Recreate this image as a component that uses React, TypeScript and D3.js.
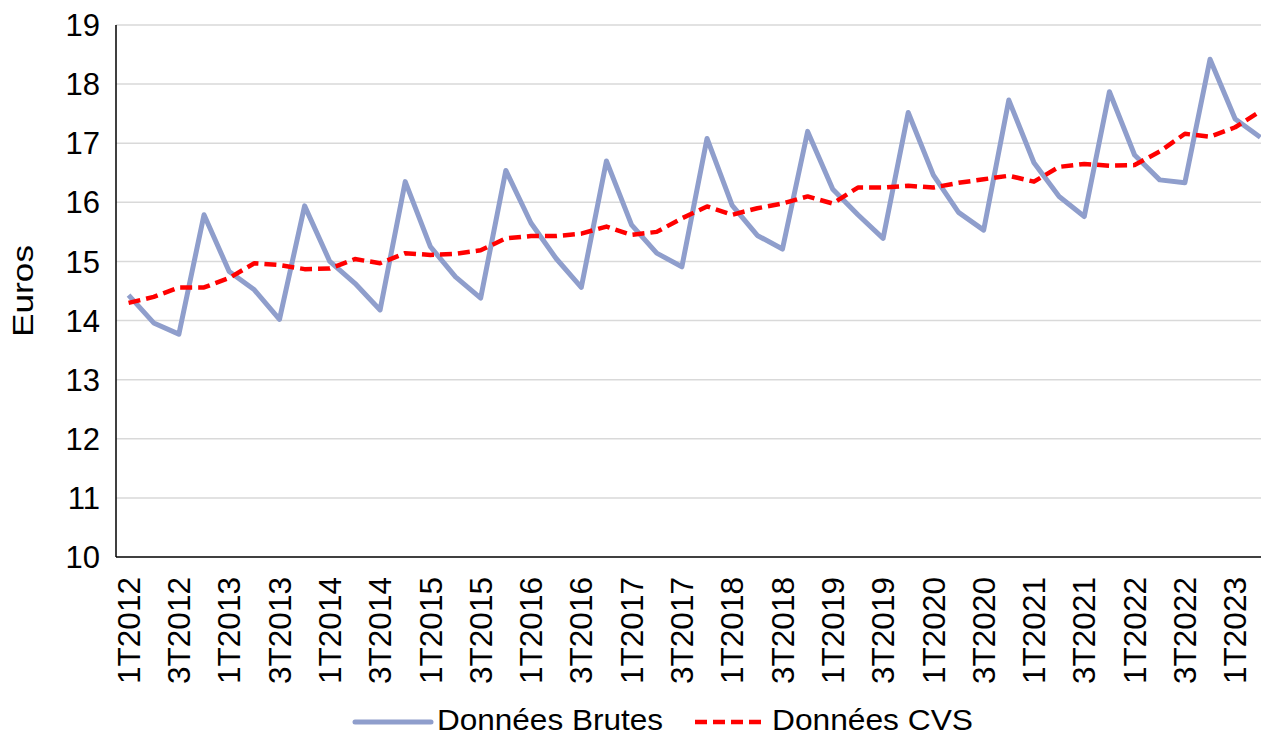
import React from "react";
import * as d3 from "d3";

const categories: string[] = [
  "1T2012", "2T2012", "3T2012", "4T2012",
  "1T2013", "2T2013", "3T2013", "4T2013",
  "1T2014", "2T2014", "3T2014", "4T2014",
  "1T2015", "2T2015", "3T2015", "4T2015",
  "1T2016", "2T2016", "3T2016", "4T2016",
  "1T2017", "2T2017", "3T2017", "4T2017",
  "1T2018", "2T2018", "3T2018", "4T2018",
  "1T2019", "2T2019", "3T2019", "4T2019",
  "1T2020", "2T2020", "3T2020", "4T2020",
  "1T2021", "2T2021", "3T2021", "4T2021",
  "1T2022", "2T2022", "3T2022", "4T2022",
  "1T2023", "2T2023",
];

const brutes: number[] = [
  14.43, 13.96, 13.77, 15.79,
  14.83, 14.52, 14.02, 15.94,
  15.0, 14.63, 14.18, 16.35,
  15.25, 14.74, 14.38, 16.54,
  15.65, 15.05, 14.56, 16.7,
  15.62, 15.14, 14.91, 17.08,
  15.95, 15.44, 15.21, 17.2,
  16.22, 15.79, 15.39, 17.52,
  16.46, 15.83, 15.53, 17.73,
  16.67, 16.1, 15.76, 17.87,
  16.8, 16.38, 16.33, 18.42,
  17.41, 17.1,
];

const cvs: number[] = [
  14.3, 14.4, 14.56, 14.56,
  14.72, 14.97, 14.94, 14.87,
  14.88, 15.04, 14.97, 15.14,
  15.11, 15.13, 15.19, 15.39,
  15.43, 15.43, 15.47, 15.59,
  15.45, 15.5, 15.73, 15.93,
  15.79, 15.9, 15.98, 16.1,
  15.98, 16.25, 16.25, 16.28,
  16.25, 16.33, 16.39, 16.45,
  16.35, 16.6, 16.65, 16.62,
  16.63, 16.86, 17.16, 17.11,
  17.27, 17.54,
];

const yTicks: number[] = [10, 11, 12, 13, 14, 15, 16, 17, 18, 19];
const xTickLabels: string[] = categories.filter((_, i) => i % 2 === 0);

const seriesNames = ["Données Brutes", "Données CVS"];

const W = 1261;
const H = 737;
const FONT = "'Liberation Sans', Arial, sans-serif";

export default function App() {
  const left = 116;
  const top = 25;
  const bottom = 557;
  const band = 25.15;
  const right = left + band * categories.length;

  const x = d3.scaleBand<string>().domain(categories).range([left, right]).paddingInner(0).paddingOuter(0);
  const xc = (c: string) => (x(c) as number) + x.bandwidth() / 2;
  const y = d3.scaleLinear().domain([10, 19]).range([bottom, top]);

  const line = d3
    .line<number>()
    .x((_, i) => xc(categories[i]))
    .y((d) => y(d));

  const blue = "#8F9ECC";
  const red = "#FF0000";

  return (
    <svg
      width={W}
      height={H}
      style={{ position: "absolute", left: 0, top: 0, background: "#fff" }}
      fontFamily={FONT}
    >
      {/* gridlines */}
      {yTicks.map((t) =>
        t === 10 ? null : (
          <line key={"g" + t} x1={left} x2={right} y1={y(t)} y2={y(t)} stroke="#D9D9D9" strokeWidth={1.5} />
        )
      )}
      {/* axes */}
      <line x1={left} x2={left} y1={top} y2={bottom} stroke="#000" strokeWidth={1.5} />
      <line x1={left} x2={right} y1={bottom} y2={bottom} stroke="#000" strokeWidth={1.5} />

      {/* y tick labels */}
      {yTicks.map((t) => (
        <text key={"y" + t} x={100} y={y(t)} dy="0.36em" textAnchor="end" fontSize={31} fill="#000">
          {t}
        </text>
      ))}

      {/* y title */}
      <text
        transform={`translate(22, 291) rotate(-90)`}
        textAnchor="middle"
        dy="0.36em"
        fontSize={30}
        textLength={92}
        lengthAdjust="spacingAndGlyphs"
        fill="#000"
      >
        Euros
      </text>

      {/* x tick labels */}
      {xTickLabels.map((c) => (
        <text
          key={"x" + c}
          transform={`translate(${xc(c)}, 577) rotate(-90)`}
          textAnchor="end"
          dy="0.36em"
          fontSize={31}
          textLength={107}
          lengthAdjust="spacingAndGlyphs"
          fill="#000"
        >
          {c}
        </text>
      ))}

      {/* series */}
      <path d={line(brutes) || ""} fill="none" stroke={blue} strokeWidth={5} strokeLinejoin="round" />
      <path
        d={line(cvs) || ""}
        fill="none"
        stroke={red}
        strokeWidth={4.5}
        strokeDasharray="12,6"
        strokeLinejoin="round"
      />

      {/* legend */}
      <line x1={355} x2={431} y1={722} y2={722} stroke={blue} strokeWidth={5} strokeLinecap="round" />
      <text
        x={437}
        y={730}
        fontSize={30}
        textLength={226}
        lengthAdjust="spacingAndGlyphs"
        fill="#000"
      >
        {seriesNames[0]}
      </text>
      <line x1={695} x2={766} y1={722} y2={722} stroke={red} strokeWidth={4.5} strokeDasharray="12,6" />
      <text
        x={772}
        y={730}
        fontSize={30}
        textLength={201}
        lengthAdjust="spacingAndGlyphs"
        fill="#000"
      >
        {seriesNames[1]}
      </text>
    </svg>
  );
}
